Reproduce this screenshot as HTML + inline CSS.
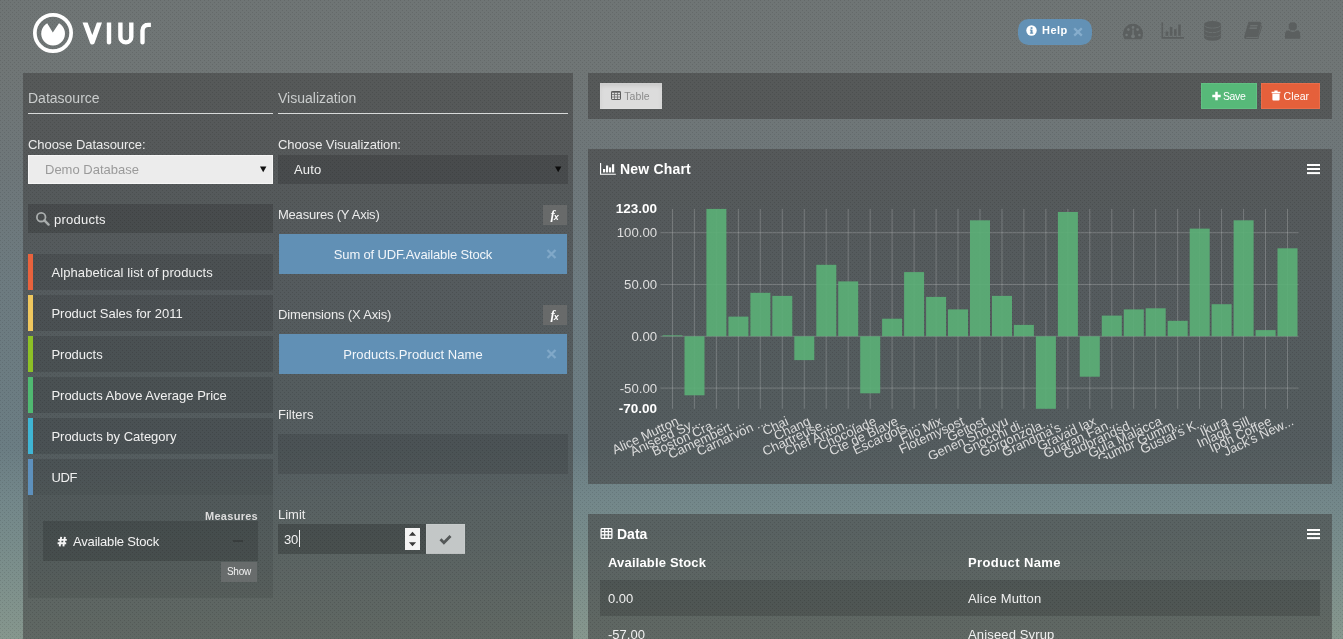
<!DOCTYPE html>
<html>
<head>
<meta charset="utf-8">
<title>viur</title>
<style>
*{box-sizing:border-box;margin:0;padding:0}
html,body{width:1343px;height:639px;overflow:hidden}
body{font-family:"Liberation Sans",sans-serif;font-size:13px;color:#e6e6e6;position:relative;
background-color:#727878;
background-image:conic-gradient(from 0deg at 1px 1px,transparent 270deg,rgba(0,0,0,.10) 270deg),conic-gradient(from 0deg at 1px 1px,transparent 270deg,rgba(0,0,0,.10) 270deg),linear-gradient(to bottom,#6f7575 0%,#707676 11%,#6e777a 28%,#6d7b80 45%,#6b7d83 70%,#73878a 78%,#788c8b 85%,#84958d 98%,#86978e 100%);
background-size:4px 4px,4px 4px,1343px 639px;background-position:0 0,2px 2px,0 0;}
.abs{position:absolute}
.panel{position:absolute;background-color:rgba(66,66,66,.55);
background-image:conic-gradient(from 0deg at 1px 1px,transparent 270deg,rgba(0,0,0,.06) 270deg),conic-gradient(from 0deg at 1px 1px,transparent 270deg,rgba(0,0,0,.06) 270deg);
background-size:4px 4px,4px 4px;background-position:0 0,2px 2px}
.t{position:absolute;white-space:nowrap;line-height:1}
.hd{font-size:14px;color:#c9cccc}
.lbl{font-size:13px;color:#ebebeb}
.item{position:absolute;left:28px;width:245px;height:36px;background:rgba(0,0,0,.115)}
.item i{position:absolute;left:0;top:0;width:5px;height:36px}
.item span{position:absolute;left:23.4px;top:12px;font-size:13px;line-height:1;color:#f0f0f0;white-space:nowrap}
.blue{position:absolute;left:279px;width:288px;height:40px;background:#6190b5}
.blue span{position:absolute;left:0;width:268px;text-align:center;top:14px;font-size:13px;line-height:1;color:#f2f6fa;white-space:nowrap}
.fx{position:absolute;left:543px;width:24px;height:20px;background:#686a6a}
</style>
</head>
<body>
<div id="root" style="position:absolute;left:0;top:0;width:1343px;height:639px;will-change:transform">

<!-- LOGO -->
<svg class="abs" style="left:28px;top:8px" width="130" height="50" viewBox="28 8 130 50">
  <defs><clipPath id="lc"><rect x="78" y="22.4" width="72.9" height="30"/></clipPath></defs>
  <circle cx="53" cy="33" r="18.15" fill="none" stroke="#fff" stroke-width="3.7"/>
  <path d="M52.8 32.6 L47.2 23.3 A11.9 11.9 0 1 0 59 23.3 Z" fill="#fff"/>
  <g fill="none" stroke="#fff" stroke-width="4.4" stroke-linecap="round" stroke-linejoin="round" clip-path="url(#lc)">
    <path d="M83.8 19 L92.3 42.1 L100.7 19" stroke-width="4.8"/>
    <path d="M109 19 V42.3"/>
    <path d="M120.4 19 V36.9 A5.45 5.45 0 0 0 131.3 36.9 V19"/>
    <path d="M142.5 42.3 V30.6 A5.9 5.9 0 0 1 148.4 24.7 H154"/>
  </g>
</svg>

<!-- HELP PILL -->
<div class="abs" style="left:1018px;top:19px;width:74px;height:26px;border-radius:10.5px;background:#6391b5"></div>
<svg class="abs" style="left:1026px;top:25.3px" width="11" height="11" viewBox="0 0 11 11"><circle cx="5.5" cy="5.5" r="5.2" fill="#fff"/><rect x="4.6" y="4.6" width="1.9" height="3.8" fill="#6391b5"/><rect x="4.6" y="2.2" width="1.9" height="1.7" fill="#6391b5"/><rect x="3.9" y="4.6" width="1.2" height="1" fill="#6391b5"/><rect x="3.9" y="7.6" width="3.3" height="1" fill="#6391b5"/></svg>
<div class="t" style="left:1042px;top:25.4px;font-size:11px;letter-spacing:.5px;font-weight:bold;color:#fff">Help</div>
<svg class="abs" style="left:1073px;top:26.6px" width="10" height="10" viewBox="0 0 10 10"><path d="M1.2 1.2 L8.8 8.6 M8.8 1.2 L1.2 8.6" stroke="#86adcc" stroke-width="2.3" fill="none"/></svg>

<!-- NAV ICONS -->
<svg class="abs" style="left:1120px;top:18px" width="190" height="26" viewBox="1120 18 190 26" fill="#5b5f5f">
  <!-- dashboard -->
  <path d="M1124.6 39.3 A10 10 0 1 1 1141.4 39.3 Z"/>
  <g fill="#737979"><circle cx="1126.6" cy="35" r="1.3"/><circle cx="1128.4" cy="29.6" r="1.3"/><circle cx="1133" cy="27.4" r="1.3"/><circle cx="1137.6" cy="29.6" r="1.3"/><circle cx="1139.4" cy="35" r="1.3"/><circle cx="1133" cy="36.3" r="1.9"/><rect x="1132.4" y="29.5" width="1.3" height="6"/></g>
  <!-- bar chart -->
  <path d="M1161.5 22.3 h1.6 v14.8 h20.9 v1.6 h-22.5 Z"/>
  <rect x="1165.6" y="31.5" width="2.6" height="4.3"/><rect x="1169.8" y="27" width="2.6" height="8.8"/><rect x="1174" y="29.2" width="2.6" height="6.6"/><rect x="1178.2" y="24.5" width="2.6" height="11.3"/>
  <!-- database -->
  <ellipse cx="1212.5" cy="24.4" rx="8.55" ry="3.4"/>
  <path d="M1203.95 25.1 A8.55 3.4 0 0 0 1221.05 25.1 V28.9 A8.55 3.4 0 0 1 1203.95 28.9 Z"/>
  <path d="M1203.95 29.6 A8.55 3.4 0 0 0 1221.05 29.6 V33.4 A8.55 3.4 0 0 1 1203.95 33.4 Z"/>
  <path d="M1203.95 33.9 A8.55 3.4 0 0 0 1221.05 33.9 V37.3 A8.55 3.4 0 0 1 1203.95 37.3 Z"/>
  <!-- book -->
  <path d="M1248.5 21.8 H1260 L1261.6 23.2 L1258 36 Q1257.6 37.2 1256.4 37.2 H1246 L1246.4 38 H1257.5 L1261.8 25 L1262.2 26.4 L1258.4 38.3 Q1258.1 38.9 1257.3 38.9 H1245.6 Q1243.6 38.6 1244.2 36.4 Z"/>
  <g fill="#737979"><path d="M1250.4 25.2 h7.4 l-.35 1.1 h-7.4 Z"/><path d="M1249.7 27.6 h7.4 l-.35 1.1 h-7.4 Z"/></g>
  <!-- user -->
  <circle cx="1292.8" cy="26.4" r="4.1"/>
  <path d="M1285 38.8 V34.6 Q1285 30.7 1288.6 30.3 Q1292.8 33.6 1297 30.3 Q1300.2 30.7 1300.2 34.6 V38.8 Z"/>
</svg>

<!-- LEFT PANEL -->
<div class="panel" style="left:23px;top:73px;width:550px;height:566px;background-position:1px 3px,3px 1px"></div>
<div class="t hd" style="left:28px;top:91px">Datasource</div>
<div class="abs" style="left:28px;top:113px;width:245px;height:1px;background:#d8dada"></div>
<div class="t hd" style="left:278px;top:91px">Visualization</div>
<div class="abs" style="left:278px;top:113px;width:290px;height:1px;background:#d8dada"></div>

<div class="t lbl" style="left:28px;top:138px;letter-spacing:-.06px">Choose Datasource:</div>
<div class="abs" style="left:28px;top:154.5px;width:245px;height:29px;background:#ececec;border:1px solid #f6f6f6"></div>
<div class="t" style="left:45px;top:163px;font-size:13px;color:#9a9a9a">Demo Database</div>
<svg class="abs" style="left:260px;top:166px" width="7" height="7" viewBox="0 0 7 7"><path d="M0 0.5 H6.4 L3.2 6.2 Z" fill="#111"/></svg>

<div class="t lbl" style="left:278px;top:138px;letter-spacing:-.09px">Choose Visualization:</div>
<div class="abs" style="left:278px;top:154.5px;width:290px;height:29px;background:rgba(0,0,0,.15)"></div>
<div class="t" style="left:294px;top:163px;font-size:13px;letter-spacing:.2px;color:#f0f0f0">Auto</div>
<svg class="abs" style="left:555px;top:166px" width="7" height="7" viewBox="0 0 7 7"><path d="M0 0.5 H6.4 L3.2 6.2 Z" fill="#0c0c0c"/></svg>

<!-- search -->
<div class="abs" style="left:28px;top:204.4px;width:245px;height:28.8px;background:rgba(0,0,0,.16)"></div>
<svg class="abs" style="left:35px;top:211px" width="16" height="16" viewBox="0 0 16 16"><circle cx="6.2" cy="6.2" r="4.3" fill="none" stroke="#a9adad" stroke-width="1.8"/><path d="M9.4 9.4 L13.6 13.6" stroke="#a9adad" stroke-width="2.4" stroke-linecap="round"/></svg>
<div class="t" style="left:54px;top:213.4px;font-size:13px;letter-spacing:.24px;color:#f2f2f2">products</div>

<!-- list -->
<div class="abs" style="left:28px;top:495px;width:245px;height:102.5px;background:rgba(0,0,0,.08)"></div>
<div class="item" style="top:254px"><i style="background:#e8623d"></i><span style="letter-spacing:.11px">Alphabetical list of products</span></div>
<div class="item" style="top:295px"><i style="background:#efc75e"></i><span>Product Sales for 2011</span></div>
<div class="item" style="top:336px"><i style="background:#8dc026"></i><span>Products</span></div>
<div class="item" style="top:377px"><i style="background:#50b971"></i><span>Products Above Average Price</span></div>
<div class="item" style="top:418px"><i style="background:#3fb5d4"></i><span>Products by Category</span></div>
<div class="item" style="top:459px"><i style="background:#5d90bc"></i><span style="letter-spacing:-.3px">UDF</span></div>

<div class="t" style="left:158px;width:100px;text-align:right;top:510.5px;font-size:11px;letter-spacing:.28px;font-weight:bold;color:#dcdcdc">Measures</div>
<div class="abs" style="left:43px;top:521px;width:215px;height:39.8px;background:rgba(0,0,0,.15)"></div>
<svg class="abs" style="left:57px;top:536px" width="11" height="11" viewBox="0 0 11 11"><path d="M4.2 .9 L2.7 10.3 M7.9 .9 L6.4 10.3 M1.2 3.9 H9.8 M.6 7.3 H9.2" stroke="#f4f4f4" stroke-width="1.9" fill="none"/></svg>
<div class="t" style="left:73px;top:535px;font-size:13px;letter-spacing:-.18px;color:#f2f2f2">Available Stock</div>
<div class="abs" style="left:233px;top:539.5px;width:10px;height:2.5px;background:#383d3d"></div>
<div class="abs" style="left:221px;top:562px;width:36px;height:20px;background:#686c6c"></div>
<div class="t" style="left:221px;width:36px;text-align:center;top:566.6px;font-size:10px;letter-spacing:-.2px;color:#f0f0f0">Show</div>

<!-- middle column -->
<div class="t lbl" style="left:278px;top:208px;letter-spacing:-.22px">Measures (Y Axis)</div>
<div class="fx" style="top:205px"></div>
<div class="blue" style="top:234px"><span style="letter-spacing:-.15px">Sum of UDF.Available Stock</span></div>
<div class="t lbl" style="left:278px;top:308.3px;letter-spacing:-.16px">Dimensions (X Axis)</div>
<div class="fx" style="top:305px"></div>
<div class="blue" style="top:334px"><span style="letter-spacing:.08px">Products.Product Name</span></div>
<div class="t lbl" style="left:278px;top:408px">Filters</div>
<div class="abs" style="left:278px;top:434px;width:290px;height:40px;background:rgba(0,0,0,.10)"></div>
<div class="t lbl" style="left:278px;top:508px">Limit</div>
<div class="abs" style="left:278px;top:524px;width:148px;height:30px;background:rgba(0,0,0,.2)"></div>
<div class="t" style="left:284px;top:532.6px;font-size:13px;letter-spacing:-.3px;color:#f2f2f2">30</div>
<div class="abs" style="left:299px;top:530px;width:1px;height:17px;background:#f2f2f2"></div>
<div class="abs" style="left:405px;top:528px;width:15px;height:22px;background:#f4f4f4"></div>
<svg class="abs" style="left:405px;top:528px" width="15" height="22" viewBox="0 0 15 22"><path d="M3.9 7.7 L7.5 3.7 L11.1 7.7 Z M3.9 14.2 L7.5 18.2 L11.1 14.2 Z" fill="#3a3a3a"/></svg>
<div class="abs" style="left:426px;top:524px;width:39px;height:30px;background:#c3c7c7;box-shadow:inset 0 0 0 1px rgba(255,255,255,.08),inset 0 -1px 0 rgba(0,0,0,.05)"></div>
<svg class="abs" style="left:439px;top:534px" width="13" height="11" viewBox="0 0 13 11"><path d="M1.5 5.3 L4.9 8.7 L11.5 2.1" stroke="#545858" stroke-width="2.8" fill="none"/></svg>

<!-- fx glyphs & x glyphs -->
<div class="t" style="left:550.5px;top:208px;font-family:'Liberation Serif',serif;font-style:italic;font-weight:bold;font-size:13px;color:#fff">f<span style="font-size:9px;font-family:'Liberation Sans',sans-serif;position:relative;top:1px;left:-1px">x</span></div>
<div class="t" style="left:550.5px;top:308px;font-family:'Liberation Serif',serif;font-style:italic;font-weight:bold;font-size:13px;color:#fff">f<span style="font-size:9px;font-family:'Liberation Sans',sans-serif;position:relative;top:1px;left:-1px">x</span></div>
<svg class="abs" style="left:546px;top:249px" width="11" height="10" viewBox="0 0 11 10"><path d="M1.5 1 L9.5 9 M9.5 1 L1.5 9" stroke="#80a8c8" stroke-width="2.3" fill="none"/></svg>
<svg class="abs" style="left:546px;top:349px" width="11" height="10" viewBox="0 0 11 10"><path d="M1.5 1 L9.5 9 M9.5 1 L1.5 9" stroke="#80a8c8" stroke-width="2.3" fill="none"/></svg>

<!-- RIGHT: toolbar -->
<div class="panel" style="left:588px;top:73px;width:744px;height:46px;background-position:0 3px,2px 1px"></div>
<div class="abs" style="left:600px;top:83px;width:62px;height:26px;background:#dcdcdc;box-shadow:inset 0 3px 4px rgba(0,0,0,.09),inset 0 0 0 1px rgba(255,255,255,.12)"></div>
<svg class="abs" style="left:611px;top:91px" width="10" height="9" viewBox="0 0 10 9"><rect x=".5" y=".5" width="9" height="8" rx=".6" fill="none" stroke="#5c5c5c" stroke-width="1"/><path d="M.5 1.2 H9.5" stroke="#5c5c5c" stroke-width="1"/><path d="M1 3.5 H9 M1 6 H9 M3.5 1 V8 M6.5 1 V8" stroke="#6e6e6e" stroke-width=".8" fill="none"/></svg>
<div class="t" style="left:624.2px;top:90.8px;font-size:10.5px;letter-spacing:.1px;color:#8b8b8b">Table</div>

<div class="abs" style="left:1201px;top:83px;width:56px;height:26px;background:#57b979;border:1px solid #62c083"></div>
<svg class="abs" style="left:1212px;top:91px" width="9" height="10" viewBox="0 0 9 10"><path d="M4.5 .8 V9.2 M.3 5 H8.7" stroke="#fff" stroke-width="2.5" fill="none"/></svg>
<div class="t" style="left:1223px;top:91px;font-size:10.5px;letter-spacing:-.4px;color:#fff">Save</div>
<div class="abs" style="left:1261px;top:83px;width:59px;height:26px;background:#e5603b;border:1px solid #ea6e4b"></div>
<svg class="abs" style="left:1271px;top:90px" width="10" height="11" viewBox="0 0 10 11"><path d="M3.4 .6 H6.6 V1.8 H9.4 V3.2 H.6 V1.8 H3.4 Z M1.4 3.8 H8.6 V9.6 Q8.6 10.6 7.6 10.6 H2.4 Q1.4 10.6 1.4 9.6 Z" fill="#fff"/></svg>
<div class="t" style="left:1283.6px;top:91px;font-size:10.5px;letter-spacing:.1px;color:#fff">Clear</div>

<!-- RIGHT: chart panel -->
<div class="panel" style="left:588px;top:149px;width:744px;height:335px;background-position:0 3px,2px 1px"></div>
<svg class="abs" style="left:600px;top:163px" width="16" height="12" viewBox="0 0 16 12" fill="#fff"><path d="M0 0 h1.15 v10.65 h14.65 v1.15 H0 Z"/><rect x="3" y="6" width="2.2" height="3.4"/><rect x="6" y="2.5" width="2.2" height="6.9"/><rect x="9" y="4.4" width="2.2" height="5"/><rect x="12" y="1.2" width="2.2" height="8.2"/></svg>
<div class="t" style="left:620px;top:162px;font-size:14px;letter-spacing:.19px;font-weight:bold;color:#fff">New Chart</div>
<div class="abs" style="left:1307.3px;top:164px;width:13px;height:2.2px;background:#fff;box-shadow:0 4px 0 #fff,0 8.1px 0 #fff"></div>

<svg class="abs" style="left:588px;top:190px" width="744" height="294" viewBox="588 190 744 294" font-family="'Liberation Sans',sans-serif">
<line x1="672.5" x2="672.5" y1="208.9" y2="408.8" stroke="rgba(255,255,255,.2)"/>
<line x1="694.4" x2="694.4" y1="208.9" y2="408.8" stroke="rgba(255,255,255,.2)"/>
<line x1="716.4" x2="716.4" y1="208.9" y2="408.8" stroke="rgba(255,255,255,.2)"/>
<line x1="738.4" x2="738.4" y1="208.9" y2="408.8" stroke="rgba(255,255,255,.2)"/>
<line x1="760.3" x2="760.3" y1="208.9" y2="408.8" stroke="rgba(255,255,255,.2)"/>
<line x1="782.3" x2="782.3" y1="208.9" y2="408.8" stroke="rgba(255,255,255,.2)"/>
<line x1="804.3" x2="804.3" y1="208.9" y2="408.8" stroke="rgba(255,255,255,.2)"/>
<line x1="826.2" x2="826.2" y1="208.9" y2="408.8" stroke="rgba(255,255,255,.2)"/>
<line x1="848.2" x2="848.2" y1="208.9" y2="408.8" stroke="rgba(255,255,255,.2)"/>
<line x1="870.2" x2="870.2" y1="208.9" y2="408.8" stroke="rgba(255,255,255,.2)"/>
<line x1="892.1" x2="892.1" y1="208.9" y2="408.8" stroke="rgba(255,255,255,.2)"/>
<line x1="914.1" x2="914.1" y1="208.9" y2="408.8" stroke="rgba(255,255,255,.2)"/>
<line x1="936.1" x2="936.1" y1="208.9" y2="408.8" stroke="rgba(255,255,255,.2)"/>
<line x1="958.0" x2="958.0" y1="208.9" y2="408.8" stroke="rgba(255,255,255,.2)"/>
<line x1="980.0" x2="980.0" y1="208.9" y2="408.8" stroke="rgba(255,255,255,.2)"/>
<line x1="1002.0" x2="1002.0" y1="208.9" y2="408.8" stroke="rgba(255,255,255,.2)"/>
<line x1="1023.9" x2="1023.9" y1="208.9" y2="408.8" stroke="rgba(255,255,255,.2)"/>
<line x1="1045.9" x2="1045.9" y1="208.9" y2="408.8" stroke="rgba(255,255,255,.2)"/>
<line x1="1067.9" x2="1067.9" y1="208.9" y2="408.8" stroke="rgba(255,255,255,.2)"/>
<line x1="1089.8" x2="1089.8" y1="208.9" y2="408.8" stroke="rgba(255,255,255,.2)"/>
<line x1="1111.8" x2="1111.8" y1="208.9" y2="408.8" stroke="rgba(255,255,255,.2)"/>
<line x1="1133.7" x2="1133.7" y1="208.9" y2="408.8" stroke="rgba(255,255,255,.2)"/>
<line x1="1155.7" x2="1155.7" y1="208.9" y2="408.8" stroke="rgba(255,255,255,.2)"/>
<line x1="1177.7" x2="1177.7" y1="208.9" y2="408.8" stroke="rgba(255,255,255,.2)"/>
<line x1="1199.6" x2="1199.6" y1="208.9" y2="408.8" stroke="rgba(255,255,255,.2)"/>
<line x1="1221.6" x2="1221.6" y1="208.9" y2="408.8" stroke="rgba(255,255,255,.2)"/>
<line x1="1243.6" x2="1243.6" y1="208.9" y2="408.8" stroke="rgba(255,255,255,.2)"/>
<line x1="1265.5" x2="1265.5" y1="208.9" y2="408.8" stroke="rgba(255,255,255,.2)"/>
<line x1="1287.5" x2="1287.5" y1="208.9" y2="408.8" stroke="rgba(255,255,255,.2)"/>
<line x1="660.3" x2="1298.5" y1="232.7" y2="232.7" stroke="rgba(255,255,255,.2)"/>
<line x1="660.3" x2="1298.5" y1="284.5" y2="284.5" stroke="rgba(255,255,255,.2)"/>
<line x1="660.3" x2="1298.5" y1="336.3" y2="336.3" stroke="rgba(255,255,255,.2)"/>
<line x1="660.3" x2="1298.5" y1="388.1" y2="388.1" stroke="rgba(255,255,255,.2)"/>
<rect x="662.5" y="335.3" width="20.0" height="1.0" fill="#5bb077" fill-opacity=".9"/>
<rect x="684.5" y="336.3" width="20.0" height="59.0" fill="#5bb077" fill-opacity=".9"/>
<rect x="706.4" y="208.9" width="20.0" height="127.4" fill="#5bb077" fill-opacity=".9"/>
<rect x="728.4" y="316.6" width="20.0" height="19.7" fill="#5bb077" fill-opacity=".9"/>
<rect x="750.4" y="292.8" width="20.0" height="43.5" fill="#5bb077" fill-opacity=".9"/>
<rect x="772.3" y="295.9" width="20.0" height="40.4" fill="#5bb077" fill-opacity=".9"/>
<rect x="794.3" y="336.3" width="20.0" height="23.8" fill="#5bb077" fill-opacity=".9"/>
<rect x="816.3" y="264.8" width="20.0" height="71.5" fill="#5bb077" fill-opacity=".9"/>
<rect x="838.2" y="281.4" width="20.0" height="54.9" fill="#5bb077" fill-opacity=".9"/>
<rect x="860.2" y="336.3" width="20.0" height="57.0" fill="#5bb077" fill-opacity=".9"/>
<rect x="882.1" y="318.7" width="20.0" height="17.6" fill="#5bb077" fill-opacity=".9"/>
<rect x="904.1" y="272.1" width="20.0" height="64.2" fill="#5bb077" fill-opacity=".9"/>
<rect x="926.1" y="296.9" width="20.0" height="39.4" fill="#5bb077" fill-opacity=".9"/>
<rect x="948.0" y="309.4" width="20.0" height="26.9" fill="#5bb077" fill-opacity=".9"/>
<rect x="970.0" y="220.3" width="20.0" height="116.0" fill="#5bb077" fill-opacity=".9"/>
<rect x="992.0" y="295.9" width="20.0" height="40.4" fill="#5bb077" fill-opacity=".9"/>
<rect x="1013.9" y="324.9" width="20.0" height="11.4" fill="#5bb077" fill-opacity=".9"/>
<rect x="1035.9" y="336.3" width="20.0" height="72.5" fill="#5bb077" fill-opacity=".9"/>
<rect x="1057.9" y="212.0" width="20.0" height="124.3" fill="#5bb077" fill-opacity=".9"/>
<rect x="1079.8" y="336.3" width="20.0" height="40.4" fill="#5bb077" fill-opacity=".9"/>
<rect x="1101.8" y="315.6" width="20.0" height="20.7" fill="#5bb077" fill-opacity=".9"/>
<rect x="1123.8" y="309.4" width="20.0" height="26.9" fill="#5bb077" fill-opacity=".9"/>
<rect x="1145.7" y="308.3" width="20.0" height="28.0" fill="#5bb077" fill-opacity=".9"/>
<rect x="1167.7" y="320.8" width="20.0" height="15.5" fill="#5bb077" fill-opacity=".9"/>
<rect x="1189.7" y="228.6" width="20.0" height="107.7" fill="#5bb077" fill-opacity=".9"/>
<rect x="1211.6" y="304.2" width="20.0" height="32.1" fill="#5bb077" fill-opacity=".9"/>
<rect x="1233.6" y="220.3" width="20.0" height="116.0" fill="#5bb077" fill-opacity=".9"/>
<rect x="1255.6" y="330.1" width="20.0" height="6.2" fill="#5bb077" fill-opacity=".9"/>
<rect x="1277.5" y="248.3" width="20.0" height="88.0" fill="#5bb077" fill-opacity=".9"/>
<text x="657.1" y="213.2" text-anchor="end" font-size="13.5" font-weight="bold" fill="#fff">123.00</text>
<text x="657.1" y="237.3" text-anchor="end" font-size="13.2" font-weight="normal" fill="#dedede">100.00</text>
<text x="657.1" y="289.1" text-anchor="end" font-size="13.2" font-weight="normal" fill="#dedede">50.00</text>
<text x="657.1" y="340.9" text-anchor="end" font-size="13.2" font-weight="normal" fill="#dedede">0.00</text>
<text x="657.1" y="392.7" text-anchor="end" font-size="13.2" font-weight="normal" fill="#dedede">-50.00</text>
<text x="657.1" y="413.1" text-anchor="end" font-size="13.5" font-weight="bold" fill="#fff">-70.00</text>
<defs><clipPath id="cc"><rect x="588" y="190" width="744" height="269"/></clipPath></defs><g clip-path="url(#cc)">
<text x="679.5" y="424.3" text-anchor="end" font-size="13" fill="#dcdcdc" transform="rotate(-25 679.5 424.3)">Alice Mutton</text>
<text x="701.4" y="424.3" text-anchor="end" font-size="13" fill="#dcdcdc" transform="rotate(-25 701.4 424.3)">Aniseed Sy...</text>
<text x="723.4" y="424.3" text-anchor="end" font-size="13" fill="#dcdcdc" transform="rotate(-25 723.4 424.3)">Boston Cra...</text>
<text x="745.4" y="424.3" text-anchor="end" font-size="13" fill="#dcdcdc" transform="rotate(-25 745.4 424.3)">Camembert ...</text>
<text x="767.3" y="424.3" text-anchor="end" font-size="13" fill="#dcdcdc" transform="rotate(-25 767.3 424.3)">Carnarvon ...</text>
<text x="789.3" y="424.3" text-anchor="end" font-size="13" fill="#dcdcdc" transform="rotate(-25 789.3 424.3)">Chai</text>
<text x="811.3" y="424.3" text-anchor="end" font-size="13" fill="#dcdcdc" transform="rotate(-25 811.3 424.3)">Chang</text>
<text x="833.2" y="424.3" text-anchor="end" font-size="13" fill="#dcdcdc" transform="rotate(-25 833.2 424.3)">Chartreuse...</text>
<text x="855.2" y="424.3" text-anchor="end" font-size="13" fill="#dcdcdc" transform="rotate(-25 855.2 424.3)">Chef Anton...</text>
<text x="877.2" y="424.3" text-anchor="end" font-size="13" fill="#dcdcdc" transform="rotate(-25 877.2 424.3)">Chocolade</text>
<text x="899.1" y="424.3" text-anchor="end" font-size="13" fill="#dcdcdc" transform="rotate(-25 899.1 424.3)">Cte de Blaye</text>
<text x="921.1" y="424.3" text-anchor="end" font-size="13" fill="#dcdcdc" transform="rotate(-25 921.1 424.3)">Escargots ...</text>
<text x="943.1" y="424.3" text-anchor="end" font-size="13" fill="#dcdcdc" transform="rotate(-25 943.1 424.3)">Filo Mix</text>
<text x="965.0" y="424.3" text-anchor="end" font-size="13" fill="#dcdcdc" transform="rotate(-25 965.0 424.3)">Flotemysost</text>
<text x="987.0" y="424.3" text-anchor="end" font-size="13" fill="#dcdcdc" transform="rotate(-25 987.0 424.3)">Geitost</text>
<text x="1009.0" y="424.3" text-anchor="end" font-size="13" fill="#dcdcdc" transform="rotate(-25 1009.0 424.3)">Genen Shouyu</text>
<text x="1030.9" y="424.3" text-anchor="end" font-size="13" fill="#dcdcdc" transform="rotate(-25 1030.9 424.3)">Gnocchi di...</text>
<text x="1052.9" y="424.3" text-anchor="end" font-size="13" fill="#dcdcdc" transform="rotate(-25 1052.9 424.3)">Gorgonzola...</text>
<text x="1074.9" y="424.3" text-anchor="end" font-size="13" fill="#dcdcdc" transform="rotate(-25 1074.9 424.3)">Grandma&#39;s ...</text>
<text x="1096.8" y="424.3" text-anchor="end" font-size="13" fill="#dcdcdc" transform="rotate(-25 1096.8 424.3)">Gravad lax</text>
<text x="1118.8" y="424.3" text-anchor="end" font-size="13" fill="#dcdcdc" transform="rotate(-25 1118.8 424.3)">Guaran Fan...</text>
<text x="1140.7" y="424.3" text-anchor="end" font-size="13" fill="#dcdcdc" transform="rotate(-25 1140.7 424.3)">Gudbrandsd...</text>
<text x="1162.7" y="424.3" text-anchor="end" font-size="13" fill="#dcdcdc" transform="rotate(-25 1162.7 424.3)">Gula Malacca</text>
<text x="1184.7" y="424.3" text-anchor="end" font-size="13" fill="#dcdcdc" transform="rotate(-25 1184.7 424.3)">Gumbr Gumm...</text>
<text x="1206.6" y="424.3" text-anchor="end" font-size="13" fill="#dcdcdc" transform="rotate(-25 1206.6 424.3)">Gustaf&#39;s K...</text>
<text x="1228.6" y="424.3" text-anchor="end" font-size="13" fill="#dcdcdc" transform="rotate(-25 1228.6 424.3)">Ikura</text>
<text x="1250.6" y="424.3" text-anchor="end" font-size="13" fill="#dcdcdc" transform="rotate(-25 1250.6 424.3)">Inlagd Sill</text>
<text x="1272.5" y="424.3" text-anchor="end" font-size="13" fill="#dcdcdc" transform="rotate(-25 1272.5 424.3)">Ipoh Coffee</text>
<text x="1294.5" y="424.3" text-anchor="end" font-size="13" fill="#dcdcdc" transform="rotate(-25 1294.5 424.3)">Jack&#39;s New...</text>
</g></svg>

<!-- RIGHT: data panel -->
<div class="panel" style="left:588px;top:514px;width:744px;height:125px;background-position:0 2px,2px 0"></div>
<svg class="abs" style="left:600px;top:528px" width="13" height="11" viewBox="0 0 12 11"><rect x=".6" y=".6" width="10.8" height="9.8" rx="1" fill="none" stroke="#fff" stroke-width="1.3"/><path d="M.6 3.6 H11.4 M.6 6.9 H11.4 M4.2 .6 V10.4 M7.8 .6 V10.4" stroke="#fff" stroke-width="1.2" fill="none"/></svg>
<div class="t" style="left:617px;top:526.6px;font-size:14px;font-weight:bold;color:#fff">Data</div>
<div class="abs" style="left:1307.3px;top:529px;width:13px;height:2.2px;background:#fff;box-shadow:0 4px 0 #fff,0 8.1px 0 #fff"></div>
<div class="t" style="left:608px;top:556px;font-size:13px;letter-spacing:.17px;font-weight:bold;color:#fff">Available Stock</div>
<div class="t" style="left:968px;top:556px;font-size:13px;letter-spacing:.4px;font-weight:bold;color:#fff">Product Name</div>
<div class="abs" style="left:600px;top:580px;width:720px;height:36px;background:rgba(0,0,0,.15)"></div>
<div class="t" style="left:608px;top:591.7px;font-size:13px;color:#f0f0f0">0.00</div>
<div class="t" style="left:968px;top:591.7px;font-size:13px;letter-spacing:.15px;color:#f0f0f0">Alice Mutton</div>
<div class="t" style="left:608px;top:627.7px;font-size:13px;color:#f0f0f0">-57.00</div>
<div class="t" style="left:968px;top:627.7px;font-size:13px;letter-spacing:.15px;color:#f0f0f0">Aniseed Syrup</div>


</div>
</body>
</html>
